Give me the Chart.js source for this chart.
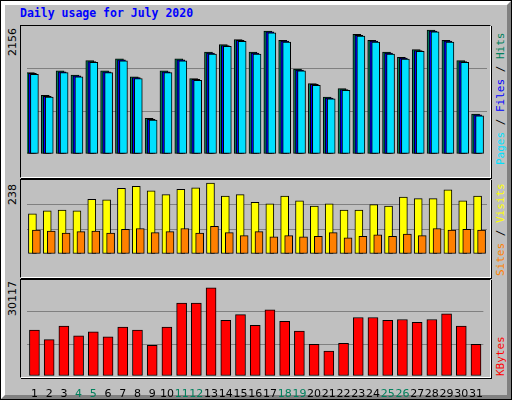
<!DOCTYPE html>
<html>
<head>
<meta charset="utf-8">
<script src="https://cdn.jsdelivr.net/npm/chart.js@4"></script>
<style>
  body { margin: 0; background: #c0c0c0; }
  #wrap { position: absolute; left: 0; top: 0; width: 510px; height: 398px; background: #c0c0c0;
          border: 1px solid #000; }
  #bevel { position: absolute; left: 0; top: 0; width: 502px; height: 390px;
           border-top: 4px solid #fff; border-left: 4px solid #fff;
           border-bottom: 4px solid #808080; border-right: 4px solid #808080; }
  .frame { position: absolute; left: 20px; width: 469px; border-top: 1px solid #000; border-left: 1px solid #000;
           border-bottom: 1px solid #fff; border-right: 1px solid #fff; box-shadow: 1px 1px 0 #000; }
  .title { position: absolute; left: 20px; top: 6px; font: bold 11.5px "DejaVu Sans Mono"; color: #0000ff; }
  .up { position: absolute; transform-origin: 0 0; transform: rotate(-90deg); white-space: nowrap; }
  .lab { font: 11px "DejaVu Sans"; color: #000; }
  .side { font: 11px "DejaVu Sans Mono"; }
  canvas { position: absolute; }
</style>
</head>
<body>
<div id="wrap"><div id="bevel"></div></div>
<div class="title">Daily usage for July 2020</div>
<div class="frame" style="top:25px;height:151px"></div>
<div class="frame" style="top:179px;height:97px"></div>
<div class="frame" style="top:279px;height:97px"></div>
<div class="up lab" style="left:6px;top:56px">2156</div>
<div class="up lab" style="left:6px;top:205px">238</div>
<div class="up lab" style="left:6px;top:316px">30117</div>
<div class="up side" style="left:494px;top:165px"><span style="color:#00e0ff">Pages</span> / <span style="color:#0000ff">Files</span> / <span style="color:#00805c">Hits</span></div>
<div class="up side" style="left:494px;top:276px"><span style="color:#ff8000">Sites</span> / <span style="color:#ffff00">Visits</span></div>
<div class="up side" style="left:494px;top:376px"><span style="color:#ff0000">KBytes</span></div>
<canvas id="c1" width="460" height="150" style="left:27px;top:26px"></canvas>
<canvas id="c2" width="460" height="96" style="left:27px;top:180px"></canvas>
<canvas id="c3" width="460" height="118" style="left:27px;top:280px"></canvas>
<script>
const days = ['1','2','3','4','5','6','7','8','9','10','11','12','13','14','15','16','17','18','19','20','21','22','23','24','25','26','27','28','29','30','31'];
const weekends = ['4','5','11','12','18','19','25','26'];
const hits = [1372,987,1401,1330,1572,1401,1601,1301,601,1401,1601,1272,1715,1843,1929,1715,2072,1915,1429,1187,958,1101,2015,1915,1715,1629,1758,2086,1915,1572,673];
const files = [1357,972,1386,1315,1557,1386,1586,1286,586,1386,1586,1257,1700,1828,1914,1700,2057,1900,1414,1172,943,1086,2000,1900,1700,1614,1743,2071,1900,1557,658];
const pages = [1342,957,1371,1300,1542,1371,1571,1271,571,1371,1571,1242,1685,1813,1899,1685,2042,1885,1399,1157,928,1071,1985,1885,1685,1599,1728,2056,1885,1542,643];
const visits = [129,139,141,139,176,174,211,218,203,191,208,213,228,186,191,166,161,186,171,154,161,141,141,159,154,183,178,178,206,171,186];
const sites = [77,74,67,72,74,67,79,82,69,72,82,67,89,69,59,72,55,59,55,57,69,52,57,62,57,64,59,82,77,79,77];
const kbytes = [15058,11921,16312,13175,14430,12862,15999,15058,10038,15999,23841,23841,28860,18195,20077,16626,21645,17881,14744,10352,8156,10666,19136,19136,18195,18508,17567,18508,20391,16312,10352];
const maxTop = 2156, maxMid = 238, maxBot = 30117 * 96 / 92;

// draw each dataset slightly shifted so the bars overlap like the original
const shiftPlugin = {
  id: 'shift',
  beforeDatasetDraw(chart, args) {
    const dx = chart.data.datasets[args.index].shift || 0;
    chart.ctx.save();
    chart.ctx.translate(dx, 0);
  },
  afterDatasetDraw(chart) { chart.ctx.restore(); }
};

function ds(data, color, shift, width) {
  return { data, backgroundColor: color, borderColor: '#000', borderWidth: 1,
           borderSkipped: false, grouped: false, barThickness: width, shift };
}

function panel(id, sets, max, showX) {
  new Chart(document.getElementById(id), {
    type: 'bar',
    data: { labels: days, datasets: sets },
    plugins: [shiftPlugin],
    options: {
      responsive: false, animation: false, devicePixelRatio: 1,
      layout: { padding: 0 },
      plugins: { legend: { display: false }, tooltip: { enabled: false } },
      scales: {
        x: {
          display: showX,
          grid: { display: false }, border: { display: false },
          ticks: {
            padding: 4, maxRotation: 0, autoSkip: false,
            font: { family: 'DejaVu Sans', size: 11 },
            color: ctx => weekends.includes(days[ctx.index]) ? '#00805c' : '#000'
          },
          afterFit: s => { s.height = 22; }
        },
        y: {
          display: true, min: 0, max: max,
          afterBuildTicks: s => { s.ticks = [0, max / 3, max * 2 / 3, max].map(v => ({ value: v })); },
          ticks: { display: false },
          border: { display: false },
          grid: { color: c => (c.index === 1 || c.index === 2) ? '#808080' : 'rgba(0,0,0,0)', drawTicks: false },
          afterFit: s => { s.width = 0; }
        }
      }
    }
  });
}

// lower index is drawn on top
panel('c1', [
  ds(pages, '#00e0ff', 0, 8),
  ds(files, '#0000ff', -2, 8),
  ds(hits, '#00805c', -4, 8)
], maxTop, false);
panel('c2', [
  ds(sites, '#ff8000', 2, 8),
  ds(visits, '#ffff00', -2, 8)
], maxMid, false);
panel('c3', [ds(kbytes, '#ff0000', 0, 10)], maxBot, true);
</script>
</body>
</html>
